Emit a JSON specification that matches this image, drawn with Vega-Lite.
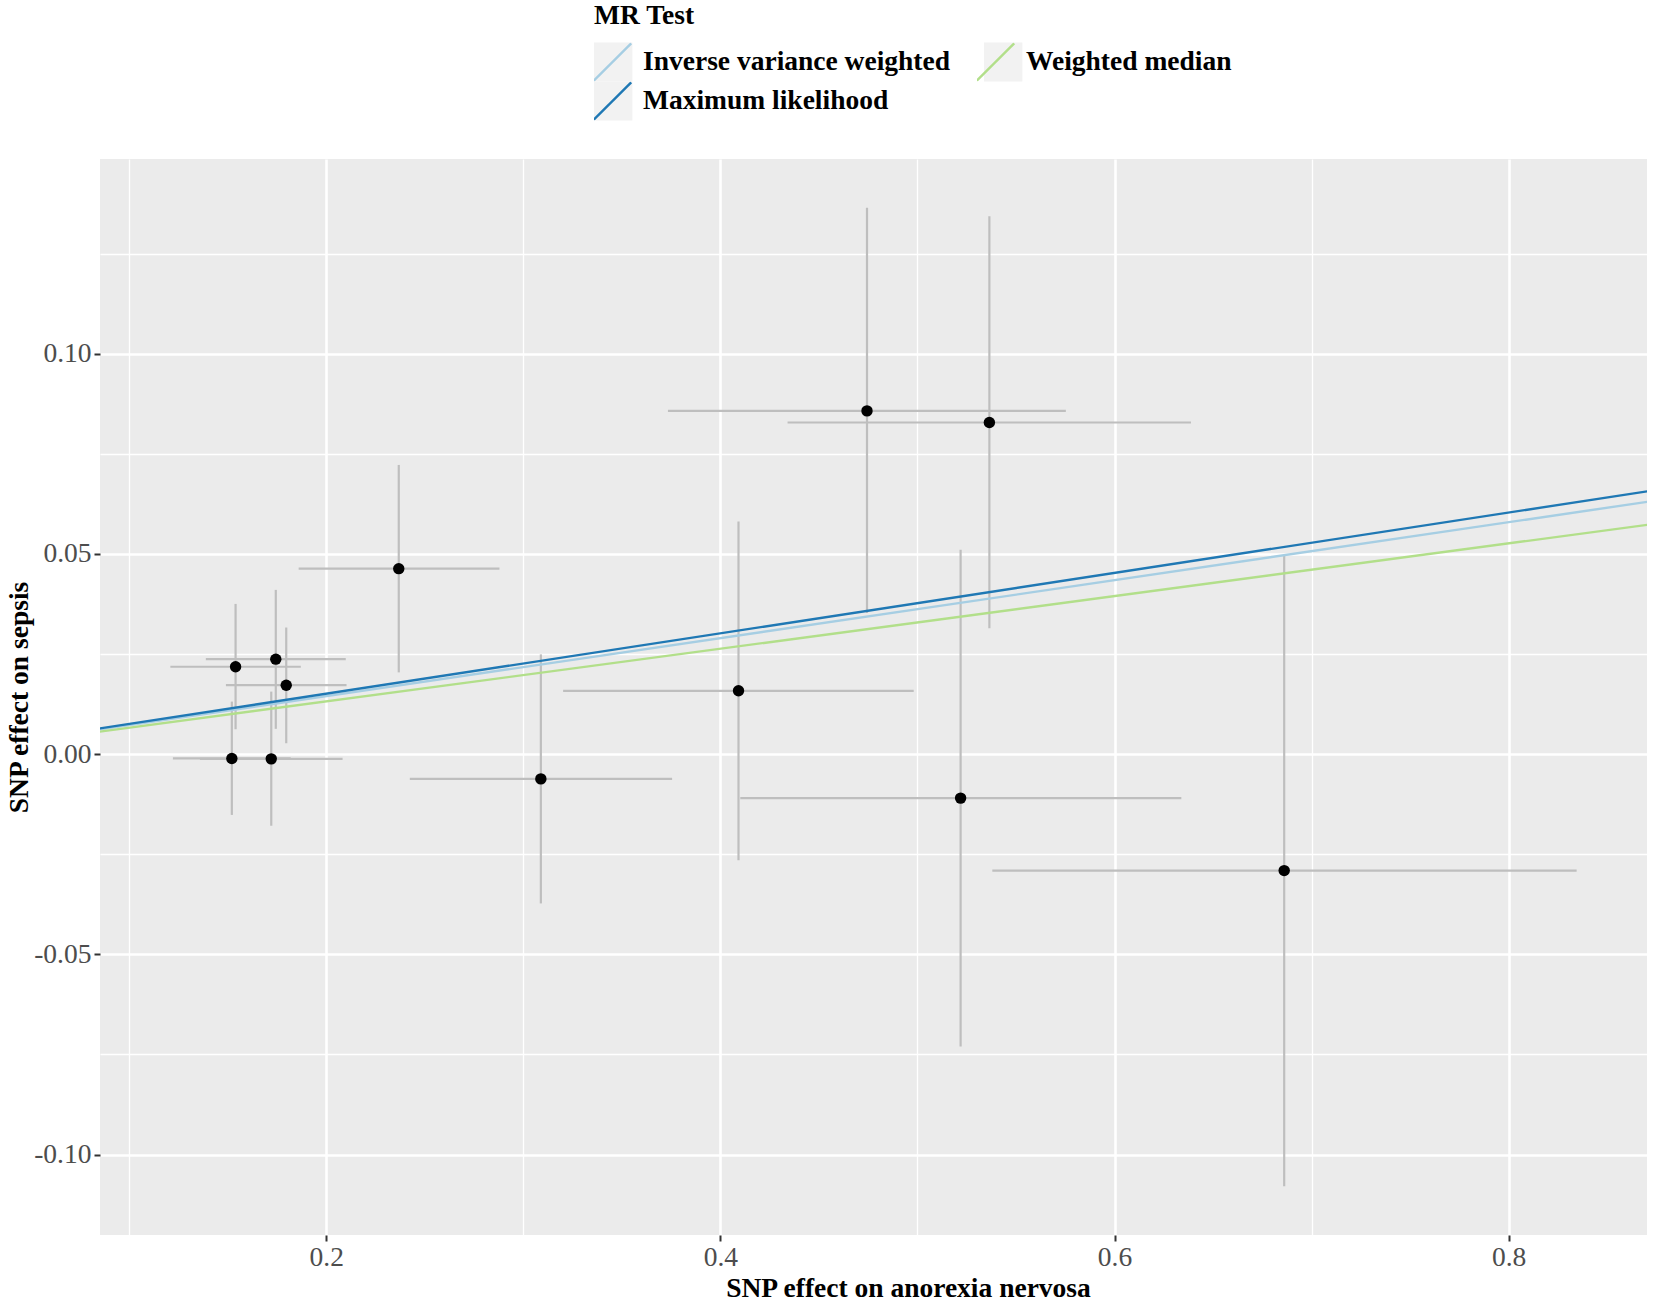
{
  "$schema": "https://vega.github.io/schema/vega-lite/v6.json",
  "width": 1547,
  "height": 1076,
  "autosize": {"type": "none"},
  "padding": {"left": 100, "top": 159, "right": 7, "bottom": 67},
  "background": "white",
  "config": {
    "view": {"fill": "#EBEBEB", "stroke": null},
    "font": "Liberation Serif"
  },
  "datasets": {
    "snps": [
      {"bx": 0.154, "by": 0.0218, "bx_lo": 0.1209, "bx_hi": 0.1871, "by_lo": 0.0062, "by_hi": 0.0375},
      {"bx": 0.1744, "by": 0.0237, "bx_lo": 0.1389, "bx_hi": 0.2099, "by_lo": 0.0063, "by_hi": 0.041},
      {"bx": 0.1797, "by": 0.0172, "bx_lo": 0.1491, "bx_hi": 0.2103, "by_lo": 0.0027, "by_hi": 0.0316},
      {"bx": 0.1521, "by": -0.0011, "bx_lo": 0.1222, "bx_hi": 0.182, "by_lo": -0.0152, "by_hi": 0.0131},
      {"bx": 0.1721, "by": -0.0012, "bx_lo": 0.1359, "bx_hi": 0.2083, "by_lo": -0.0179, "by_hi": 0.0156},
      {"bx": 0.2368, "by": 0.0463, "bx_lo": 0.186, "bx_hi": 0.2879, "by_lo": 0.0204, "by_hi": 0.0722},
      {"bx": 0.3089, "by": -0.0062, "bx_lo": 0.2424, "bx_hi": 0.3755, "by_lo": -0.0373, "by_hi": 0.0249},
      {"bx": 0.4092, "by": 0.0158, "bx_lo": 0.3202, "bx_hi": 0.4981, "by_lo": -0.0265, "by_hi": 0.0581},
      {"bx": 0.4744, "by": 0.0857, "bx_lo": 0.3734, "bx_hi": 0.5753, "by_lo": 0.0352, "by_hi": 0.1364},
      {"bx": 0.5365, "by": 0.0828, "bx_lo": 0.4341, "bx_hi": 0.6388, "by_lo": 0.0314, "by_hi": 0.1343},
      {"bx": 0.5219, "by": -0.011, "bx_lo": 0.4101, "bx_hi": 0.6339, "by_lo": -0.073, "by_hi": 0.051},
      {"bx": 0.6861, "by": -0.0291, "bx_lo": 0.538, "bx_hi": 0.8345, "by_lo": -0.1079, "by_hi": 0.0497}
    ],
    "fits": [
      {"method": "Inverse variance weighted", "x": 0.08, "y": 0.00579},
      {"method": "Inverse variance weighted", "x": 0.88, "y": 0.06369},
      {"method": "Maximum likelihood", "x": 0.08, "y": 0.006031},
      {"method": "Maximum likelihood", "x": 0.88, "y": 0.06634},
      {"method": "Weighted median", "x": 0.08, "y": 0.005261},
      {"method": "Weighted median", "x": 0.88, "y": 0.05787}
    ]
  },
  "encoding": {
    "x": {
      "type": "quantitative",
      "scale": {"domain": [0.0852, 0.8702], "nice": false, "zero": false},
      "axis": {
        "title": "SNP effect on anorexia nervosa",
        "titleFont": "Liberation Serif",
        "titleFontSize": 27.5,
        "titleFontWeight": "bold",
        "titleColor": "black",
        "titlePadding": 4,
        "titleX": 808,
        "values": [0.1, 0.2, 0.3, 0.4, 0.5, 0.6, 0.7, 0.8],
        "labelExpr": "round(datum.value*10) % 2 == 0 ? format(datum.value, '.1f') : ''",
        "labelFont": "Liberation Serif",
        "labelFontSize": 27.5,
        "labelColor": "#4D4D4D",
        "labelPadding": 2,
        "labelFlush": false,
        "labelOverlap": false,
        "domain": false,
        "tickSize": 6,
        "tickWidth": 2,
        "tickColor": {"condition": {"test": "round(datum.value*10) % 2 == 0", "value": "#333333"}, "value": "transparent"},
        "grid": true,
        "gridColor": "white",
        "gridOpacity": 1,
        "gridWidth": {"condition": {"test": "round(datum.value*10) % 2 == 0", "value": 2.6}, "value": 1.3}
      }
    },
    "y": {
      "type": "quantitative",
      "scale": {"domain": [-0.1201, 0.1486], "nice": false, "zero": false},
      "axis": {
        "title": "SNP effect on sepsis",
        "titleFont": "Liberation Serif",
        "titleFontSize": 27.5,
        "titleFontWeight": "bold",
        "titleColor": "black",
        "titlePadding": 0,
        "values": [-0.1, -0.075, -0.05, -0.025, 0, 0.025, 0.05, 0.075, 0.1, 0.125],
        "labelExpr": "round(datum.value*40) % 2 == 0 ? (datum.value < -0.0001 ? '-' : '') + format(abs(datum.value), '.2f') : ''",
        "labelFont": "Liberation Serif",
        "labelFontSize": 27.5,
        "labelColor": "#4D4D4D",
        "labelPadding": 3,
        "labelFlush": false,
        "labelOverlap": false,
        "domain": false,
        "tickSize": 6,
        "tickWidth": 2,
        "tickColor": {"condition": {"test": "round(datum.value*40) % 2 == 0", "value": "#333333"}, "value": "transparent"},
        "grid": true,
        "gridColor": "white",
        "gridOpacity": 1,
        "gridWidth": {"condition": {"test": "round(datum.value*40) % 2 == 0", "value": 2.6}, "value": 1.3}
      }
    }
  },
  "layer": [
    {
      "data": {"name": "snps"},
      "mark": {"type": "rule", "color": "#BEBEBE", "strokeWidth": 2.2},
      "encoding": {
        "x": {"field": "bx", "type": "quantitative"},
        "y": {"field": "by_lo", "type": "quantitative"},
        "y2": {"field": "by_hi"}
      }
    },
    {
      "data": {"name": "snps"},
      "mark": {"type": "rule", "color": "#BEBEBE", "strokeWidth": 2.2},
      "encoding": {
        "y": {"field": "by", "type": "quantitative"},
        "x": {"field": "bx_lo", "type": "quantitative"},
        "x2": {"field": "bx_hi"}
      }
    },
    {
      "data": {"name": "snps"},
      "mark": {"type": "point", "filled": true, "color": "black", "opacity": 1, "size": 130},
      "encoding": {
        "x": {"field": "bx", "type": "quantitative"},
        "y": {"field": "by", "type": "quantitative"}
      }
    },
    {
      "data": {"name": "fits"},
      "mark": {"type": "line", "strokeWidth": 2.4, "clip": true},
      "encoding": {
        "x": {"field": "x", "type": "quantitative"},
        "y": {"field": "y", "type": "quantitative"},
        "color": {
          "field": "method",
          "type": "nominal",
          "scale": {
            "domain": ["Inverse variance weighted", "Maximum likelihood", "Weighted median"],
            "range": ["#a6cee3", "#1f78b4", "#b2df8a"]
          },
          "legend": {
            "title": "MR Test",
            "orient": "none",
            "legendX": 494,
            "legendY": -157,
            "columns": 2,
            "columnPadding": 26,
            "rowPadding": 0,
            "clipHeight": 39,
            "symbolType": "M-1.1,1.1L1.1,-1.1",
            "symbolSize": 1156,
            "symbolStrokeWidth": 2.4,
            "symbolOpacity": 1,
            "labelFont": "Liberation Serif",
            "labelFontSize": 27.5,
            "labelFontWeight": "bold",
            "labelColor": "black",
            "labelLimit": 600,
            "labelOffset": 12,
            "titleFont": "Liberation Serif",
            "titleFontSize": 27.5,
            "titleFontWeight": "bold",
            "titleColor": "black",
            "titlePadding": 13,
            "zindex": 2
          }
        }
      }
    },
    {
      "data": {"name": "fits"},
      "mark": {"type": "point", "shape": "square", "filled": true, "opacity": 0, "clip": true},
      "encoding": {
        "x": {"field": "x", "type": "quantitative"},
        "y": {"field": "y", "type": "quantitative"},
        "fill": {
          "field": "method",
          "type": "nominal",
          "scale": {"range": ["#F2F2F2", "#F2F2F2", "#F2F2F2"]},
          "legend": {
            "title": null,
            "orient": "none",
            "legendX": 494,
            "legendY": -116.5,
            "columns": 2,
            "columnPadding": 341,
            "rowPadding": 0,
            "clipHeight": 39,
            "symbolType": "M-1.1,-1.1H1.1V1.1H-1.1Z",
            "symbolSize": 1156,
            "symbolStrokeWidth": 2.4,
            "symbolStrokeColor": "#F2F2F2",
            "symbolOpacity": 1,
            "labelExpr": "''",
            "labelFontSize": 27.5,
            "labelOffset": 12,
            "zindex": 1
          }
        }
      }
    }
  ]
}
